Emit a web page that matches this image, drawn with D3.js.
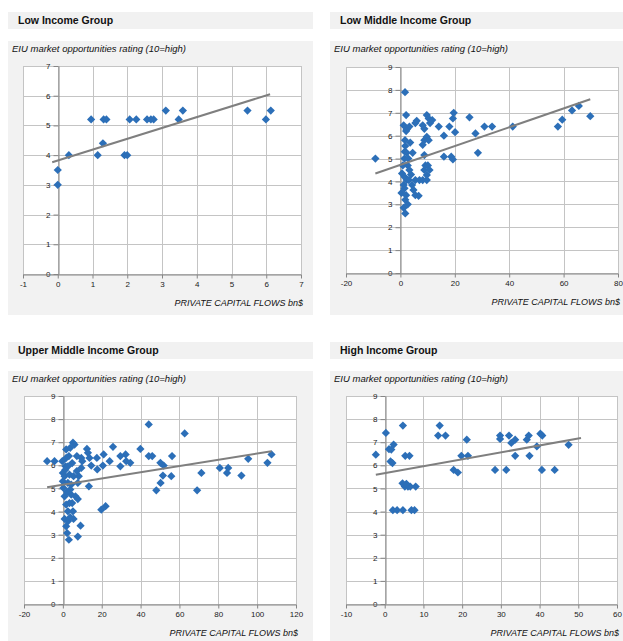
<!DOCTYPE html>
<html lang="en">

<head>
    <meta charset="UTF-8">
    <title>EIU rating vs private capital flows</title>
    <style>
        body {
            margin: 0;
            background: #fff;
        }

        svg text {
            font-family: "Liberation Sans", Arial, sans-serif;
        }

        .grid line {
            stroke: #c4c4c4;
            stroke-width: 1px;
        }

        .axis path,
        .axis line {
            stroke: #868686;
        }

        .axis text {
            font-size: 8px;
            fill: #1a1a1a;
        }

        .trend {
            fill: none;
            stroke: #7f7f7f;
            stroke-width: 2px;
        }
    </style>
    <script src="https://d3js.org/d3.v7.min.js"></script>
</head>

<body>
    <div id="chart"></div>

    <script>
        const TITLES = ["Low Income Group", "Low Middle Income Group",
            "Upper Middle Income Group", "High Income Group"];
        const Y_TITLE = "EIU market opportunities rating (10=high)";
        const X_TITLE = "PRIVATE CAPITAL FLOWS bn$";

        // tick labels of each panel
        const X_TICKS = [
            [-1, 0, 1, 2, 3, 4, 5, 6, 7],
            [-20, 0, 20, 40, 60, 80],
            [-20, 0, 20, 40, 60, 80, 100, 120],
            [-10, 0, 10, 20, 30, 40, 50, 60]
        ];
        const Y_TICKS = [
            [0, 1, 2, 3, 4, 5, 6, 7],
            [0, 1, 2, 3, 4, 5, 6, 7, 8, 9],
            [0, 1, 2, 3, 4, 5, 6, 7, 8, 9],
            [0, 1, 2, 3, 4, 5, 6, 7, 8, 9]
        ];

        // [capital flows, rating]
        const lowIncome = [
            [0, 3.0], [0, 3.5], [0.32, 4.0], [0.96, 5.2], [1.15, 4.0], [1.3, 4.4],
            [1.32, 5.2], [1.4, 5.2], [1.92, 4.0], [2.0, 4.0], [2.07, 5.2], [2.26, 5.2],
            [2.57, 5.2], [2.68, 5.2], [2.76, 5.2], [3.11, 5.5], [3.48, 5.2], [3.6, 5.5],
            [5.46, 5.5], [5.99, 5.2], [6.13, 5.5]
        ];

        const lowMiddle = [
            [-9.2, 5.0], [1.7, 7.9], [2.1, 6.9], [1.2, 6.45], [2.3, 6.27], [3.3, 6.4],
            [2.1, 6.2], [3.6, 5.7], [1.8, 5.55], [2.3, 5.25], [1.5, 5.0], [0.9, 4.7],
            [0.6, 4.35], [1.5, 4.2], [2.3, 4.06], [1.2, 3.85], [0.4, 3.5], [2.1, 3.4],
            [1.8, 3.2], [2.7, 3.0], [1.2, 2.85], [1.8, 2.6], [4.5, 5.25], [4.3, 3.85],
            [4.8, 3.63], [5.5, 4.06], [5.5, 3.4], [6.7, 3.37], [6.0, 6.65], [5.5, 6.55],
            [7.0, 4.06], [8.2, 4.06], [8.8, 4.5], [9.2, 4.7], [10.1, 4.7], [8.8, 5.15],
            [8.2, 5.6], [8.8, 5.8], [9.7, 5.95], [10.4, 5.8], [8.8, 6.3], [8.2, 6.45],
            [9.7, 6.9], [10.4, 6.75], [10.9, 6.55], [11.7, 6.68], [9.7, 4.06], [10.7, 4.5],
            [9.7, 4.28], [14.1, 6.4], [16.0, 6.0], [16.0, 5.08], [18.0, 6.4], [18.7, 5.08],
            [19.3, 4.96], [19.3, 6.75], [19.6, 7.0], [20.1, 6.15], [25.4, 6.8], [27.6, 6.1],
            [28.5, 5.25], [30.9, 6.4], [33.7, 6.4], [41.3, 6.4], [57.9, 6.4], [59.5, 6.7],
            [63.1, 7.1], [65.6, 7.3], [69.8, 6.85], [1.7, 5.8], [2.7, 4.7], [3.3, 4.5],
            [3.9, 4.3], [3.1, 4.06], [1.5, 3.7], [1.6, 5.3], [2.9, 5.0]
        ];

        const upperMiddle = [
            [-8.1, 6.18], [-4.3, 6.18], [-0.3, 6.18], [0, 5.67], [0, 5.31], [0.3, 5.02],
            [0.9, 5.53], [1.7, 6.69], [1.4, 5.96], [0.9, 3.68], [1.7, 3.36], [2.2, 3.07],
            [3.1, 2.78], [2.6, 4.01], [3.4, 4.37], [4.3, 4.73], [3.8, 4.95], [2.6, 5.24],
            [3.4, 5.6], [2.6, 5.96], [3.1, 6.4], [3.8, 6.76], [5.2, 6.98], [6.0, 6.9],
            [5.5, 3.68], [5.2, 4.01], [4.8, 4.37], [6.5, 4.66], [7.7, 4.54], [7.7, 2.92],
            [9.1, 3.39], [7.2, 6.4], [7.2, 5.75], [8.2, 5.53], [7.7, 5.24], [9.5, 6.32],
            [9.5, 5.89], [10.0, 6.18], [12.4, 6.71], [12.9, 6.54], [13.4, 5.09], [13.7, 6.32],
            [14.6, 5.99], [17.5, 6.32], [17.7, 5.82], [19.8, 4.08], [22.0, 4.23], [21.0, 6.47],
            [20.6, 5.99], [24.1, 6.18], [25.8, 6.8], [29.6, 6.4], [29.6, 5.96], [32.3, 6.47],
            [32.6, 6.18], [34.7, 6.11], [39.9, 6.71], [44.2, 7.77], [44.2, 6.4], [46.0, 6.4],
            [48.1, 4.92], [50.3, 5.24], [50.2, 6.11], [51.5, 5.56], [51.9, 5.99], [55.8, 5.53],
            [56.2, 6.4], [62.7, 7.38], [69.1, 4.92], [71.3, 5.67], [80.8, 5.89], [84.5, 5.67],
            [85.1, 5.89], [91.9, 5.56], [95.4, 6.28], [105.3, 6.11], [107.4, 6.47],
            [1.7, 6.32], [0.9, 4.66], [2.6, 3.58], [3.8, 3.75], [1.7, 4.3], [4.8, 6.1],
            [5.5, 5.53], [4.3, 5.17], [1.2, 5.8], [2.2, 4.85]
        ];

        const highIncome = [
            [-2.3, 6.46], [0.3, 7.4], [1.1, 6.7], [1.5, 6.17], [1.7, 6.68], [2.0, 6.1],
            [2.3, 6.9], [2.1, 4.06], [3.2, 4.06], [4.7, 4.06], [4.7, 7.72], [4.6, 5.22],
            [5.2, 5.08], [5.3, 6.41], [6.0, 5.08], [6.4, 6.41], [6.6, 5.08], [6.9, 4.06],
            [7.7, 4.06], [8.0, 5.08], [5.6, 5.2], [13.8, 7.29], [14.2, 7.72], [15.7, 7.29],
            [17.8, 5.8], [18.9, 5.69], [19.8, 6.41], [21.2, 7.11], [21.5, 6.41], [28.5, 5.8],
            [29.8, 7.29], [29.8, 7.14], [31.4, 5.8], [32.1, 7.29], [32.7, 6.97], [33.7, 7.11],
            [33.7, 6.41], [36.7, 7.11], [37.2, 7.29], [37.4, 6.41], [39.3, 6.82], [40.2, 7.37],
            [40.7, 7.29], [40.6, 5.8], [43.9, 5.8], [47.5, 6.89]
        ];

        // trend line end points as drawn in the original
        const TRENDS = [
            [[-0.16, 3.76], [6.11, 6.05]],
            [[-9.2, 4.35], [69.8, 7.59]],
            [[-8.1, 5.05], [107.4, 6.61]],
            [[-2.3, 5.59], [50.7, 7.18]]
        ];

        const SERIES = [lowIncome, lowMiddle, upperMiddle, highIncome];

        // panel geometry (pixels)
        const PANELS = [
            { bx: 8, by: 12, bw: 305, plot: { l: 23, r: 301, t: 66, b: 274 } },
            { bx: 330, by: 12, bw: 300, plot: { l: 346, r: 618, t: 67, b: 273 } },
            { bx: 8, by: 342, bw: 305, plot: { l: 24, r: 296, t: 396, b: 604 } },
            { bx: 330, by: 342, bw: 300, plot: { l: 346, r: 617, t: 396, b: 604 } }
        ];

        const W = 623, H = 641;

        const svg = d3.select("#chart")
            .append("svg")
            .attr("width", W)
            .attr("height", H);

        const diamond = d3.symbol().type(d3.symbolSquare).size(34);
        const plain = d => String(d);   // "-1", not the unicode minus

        PANELS.forEach((p, i) => {
            const g = svg.append("g");
            const xt = X_TICKS[i], yt = Y_TICKS[i];

            // title bar
            g.append("rect")
                .attr("x", p.bx).attr("y", p.by)
                .attr("width", p.bw).attr("height", 17)
                .attr("fill", "#f1f1f1");
            g.append("text")
                .attr("x", p.bx + 10).attr("y", p.by + 12)
                .attr("font-size", "10.5px")
                .attr("font-weight", "bold")
                .attr("fill", "#111")
                .text(TITLES[i]);

            // chart background
            g.append("rect")
                .attr("x", p.bx).attr("y", p.by + 29)
                .attr("width", p.bw).attr("height", 274)
                .attr("fill", "#f2f2f2");
            g.append("text")
                .attr("x", p.bx + 4).attr("y", p.by + 40)
                .attr("font-size", "9.5px")
                .attr("font-style", "italic")
                .attr("fill", "#111")
                .text(Y_TITLE);
            g.append("text")
                .attr("x", p.plot.r + 2).attr("y", p.plot.b + 32)
                .attr("text-anchor", "end")
                .attr("font-size", "9px")
                .attr("font-style", "italic")
                .attr("fill", "#111")
                .text(X_TITLE);

            const x = d3.scaleLinear()
                .domain([xt[0], xt[xt.length - 1]])
                .range([p.plot.l, p.plot.r]);
            const y = d3.scaleLinear()
                .domain([yt[0], yt[yt.length - 1]])
                .range([p.plot.b, p.plot.t]);

            g.append("rect")
                .attr("x", p.plot.l).attr("y", p.plot.t)
                .attr("width", p.plot.r - p.plot.l)
                .attr("height", p.plot.b - p.plot.t)
                .attr("fill", "#fff");

            // gridlines
            const grid = g.append("g").attr("class", "grid");
            grid.selectAll(".v").data(xt).join("line")
                .attr("x1", d => Math.round(x(d)) + 0.5).attr("x2", d => Math.round(x(d)) + 0.5)
                .attr("y1", p.plot.t).attr("y2", p.plot.b);
            grid.selectAll(".h").data(yt).join("line")
                .attr("x1", p.plot.l).attr("x2", p.plot.r)
                .attr("y1", d => Math.round(y(d)) + 0.5).attr("y2", d => Math.round(y(d)) + 0.5);

            // axes crossing at 0
            g.append("g")
                .attr("class", "axis")
                .attr("transform", "translate(" + (Math.round(x(0)) + 0.5) + ",0)")
                .call(d3.axisLeft(y).tickValues(yt).tickFormat(plain)
                    .tickSize(5).tickSizeOuter(0).tickPadding(3));
            g.append("g")
                .attr("class", "axis")
                .attr("transform", "translate(0," + (Math.round(y(0)) + 0.5) + ")")
                .call(d3.axisBottom(x).tickValues(xt).tickFormat(plain)
                    .tickSize(4).tickSizeOuter(0).tickPadding(3));

            // points
            g.append("g").selectAll("path")
                .data(SERIES[i])
                .join("path")
                .attr("d", diamond)
                .attr("transform", d => "translate(" + x(d[0]) + "," + y(d[1]) + ") rotate(45)")
                .attr("fill", "#2c6fb8");

            // trend line
            g.append("path")
                .datum(TRENDS[i])
                .attr("class", "trend")
                .attr("d", d3.line().x(d => x(d[0])).y(d => y(d[1])));
        });
    </script>
</body>

</html>
